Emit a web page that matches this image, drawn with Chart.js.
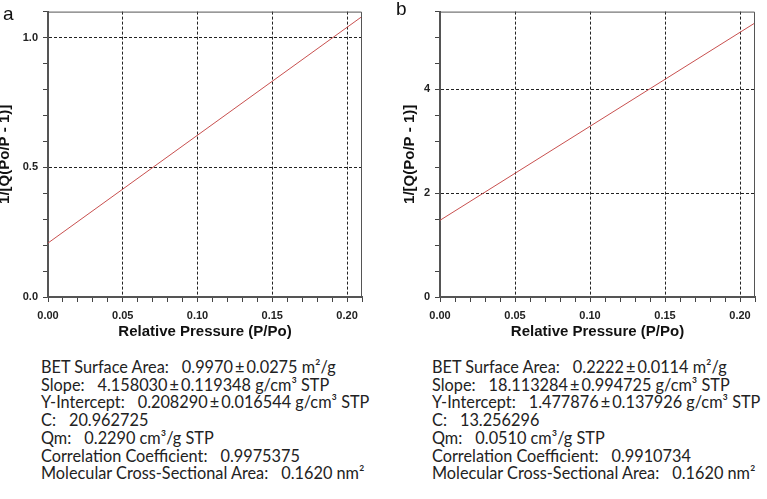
<!DOCTYPE html>
<html>
<head>
<meta charset="utf-8">
<script src="https://cdn.jsdelivr.net/npm/chart.js@4/dist/chart.umd.min.js"></script>
<style>
  html, body { margin: 0; padding: 0; background: #fff; }
  body { width: 767px; height: 499px; position: relative; overflow: hidden; }
  .panel { position: absolute; top: 0; height: 345px; width: 383px; }
  .letter { position: absolute; font: 19px/1 'Liberation Sans', Arial, sans-serif; color: #111; }
  .info { position: absolute; top: 358px; font: 16.3px Lato, 'Open Sans', sans-serif; color: #222; line-height: 17.7px; white-space: pre; }
  .info .v { margin-left: 13px; }
</style>
</head>
<body>
<div class="panel" style="left:-3px"><canvas id="chartA"></canvas></div>
<div class="panel" style="left:384px"><canvas id="chartB"></canvas></div>
<div class="letter" style="left:3px;top:4px">a</div>
<div class="letter" style="left:396px;top:-1px">b</div>
<div class="info" id="infoA" style="left:41px"></div>
<div class="info" id="infoB" style="left:432px"></div>
<script>
// values
const pressureA = [0.00, 0.21];
const transformA = [0.208, 1.081];
const pressureB = [0.00, 0.21];
const transformB = [1.478, 5.282];

const xMajor = [0.00, 0.05, 0.10, 0.15, 0.20];
const yMajorA = [0.0, 0.5, 1.0];
const yMajorB = [0, 2, 4];

const infoLabels = ['BET Surface Area:', 'Slope:', 'Y-Intercept:', 'C:', 'Qm:', 'Correlation Coefficient:', 'Molecular Cross-Sectional Area:'];
const infoValuesA = ['0.9970\u2009±\u20090.0275 m²/g', '4.158030\u2009±\u20090.119348 g/cm³ STP', '0.208290\u2009±\u20090.016544 g/cm³ STP', '20.962725', '0.2290 cm³/g STP', '0.9975375', '0.1620 nm²'];
const infoValuesB = ['0.2222\u2009±\u20090.0114 m²/g', '18.113284\u2009±\u20090.994725 g/cm³ STP', '1.477876\u2009±\u20090.137926 g/cm³ STP', '13.256296', '0.0510 cm³/g STP', '0.9910734', '0.1620 nm²'];

const LINE_COLOR = '#c8504f';
const TICK_FONT = { family: "'Liberation Sans', Arial, sans-serif", size: 11, weight: 'bold' };
const TITLE_FONT = { family: "'Liberation Sans', Arial, sans-serif", size: 15, weight: 'bold', lineHeight: 1 };

const isMajor = (v, majors) => majors.some(m => Math.abs(m - v) < 1e-6);

// thin frame on top/right of plot area
const framePlugin = {
  id: 'frame',
  afterDraw(chart) {
    const { ctx, chartArea: a } = chart;
    ctx.save();
    ctx.strokeStyle = '#555';
    ctx.lineWidth = 1;
    ctx.beginPath();
    ctx.moveTo(a.left, a.top + 0.5);
    ctx.lineTo(a.right - 0.5, a.top + 0.5);
    ctx.lineTo(a.right - 0.5, a.bottom);
    ctx.stroke();
    ctx.restore();
  }
};

function makeChart(id, xs, ys, opts) {
  const pts = xs.map((x, i) => ({ x, y: ys[i] }));
  return new Chart(document.getElementById(id), {
    type: 'scatter',
    data: {
      datasets: [{
        data: pts,
        showLine: true,
        borderColor: LINE_COLOR,
        borderWidth: 1,
        pointRadius: 0
      }]
    },
    options: {
      responsive: true,
      maintainAspectRatio: false,
      animation: false,
      layout: { padding: opts.padding },
      plugins: { legend: { display: false }, tooltip: { enabled: false } },
      scales: {
        x: {
          type: 'linear',
          min: 0,
          max: 0.21,
          afterFit: s => { s.height = 48; },
          ticks: {
            stepSize: 0.01,
            autoSkip: false,
            maxRotation: 0,
            padding: 7,
            color: '#222',
            font: TICK_FONT,
            callback: v => isMajor(v, xMajor) ? v.toFixed(2) : ''
          },
          grid: {
            color: c => (c.tick && c.tick.value > 0 && isMajor(c.tick.value, xMajor)) ? '#222' : 'rgba(0,0,0,0)',
            tickColor: '#444',
            tickLength: 5,
            tickWidth: 1,
            tickBorderDash: []
          },
          border: { display: true, color: '#555', width: 2, dash: [3, 2] },
          title: {
            display: true,
            text: 'Relative Pressure (P/Po)',
            color: '#111',
            font: { ...TITLE_FONT, lineHeight: 1.2 },
            padding: { top: 4, bottom: 4 }
          }
        },
        y: {
          type: 'linear',
          min: 0,
          max: opts.yMax,
          afterFit: s => { s.width = opts.yWidth; },
          ticks: {
            stepSize: opts.yStep,
            autoSkip: false,
            padding: 5,
            color: '#222',
            font: TICK_FONT,
            callback: v => isMajor(v, opts.yMajor) ? opts.fmt(v) : ''
          },
          grid: {
            color: c => (c.tick && c.tick.value > 0 && isMajor(c.tick.value, opts.yMajor)) ? '#222' : 'rgba(0,0,0,0)',
            tickColor: '#444',
            tickLength: 5,
            tickWidth: 1,
            tickBorderDash: []
          },
          border: { display: true, color: '#555', width: 2, dash: [3, 2] },
          title: {
            display: true,
            text: '1/[Q(Po/P - 1)]',
            color: '#111',
            font: TITLE_FONT,
            padding: 0
          }
        }
      }
    },
    plugins: [framePlugin]
  });
}

makeChart('chartA', pressureA, transformA, {
  padding: { left: 0, right: 18, top: 5, bottom: 0 },
  yWidth: 51, yMax: 1.1, yStep: 0.1, yMajor: yMajorA,
  fmt: v => v.toFixed(1)
});

makeChart('chartB', pressureB, transformB, {
  padding: { left: 18, right: 12, top: 3, bottom: 0 },
  yWidth: 38, yMax: 5.5, yStep: 0.5, yMajor: yMajorB,
  fmt: v => String(Math.round(v))
});

function fillInfo(id, values) {
  const el = document.getElementById(id);
  el.innerHTML = infoLabels.map((l, i) => `<div>${l}<span class="v">${values[i]}</span></div>`).join('');
}
fillInfo('infoA', infoValuesA);
fillInfo('infoB', infoValuesB);
</script>
</body>
</html>
